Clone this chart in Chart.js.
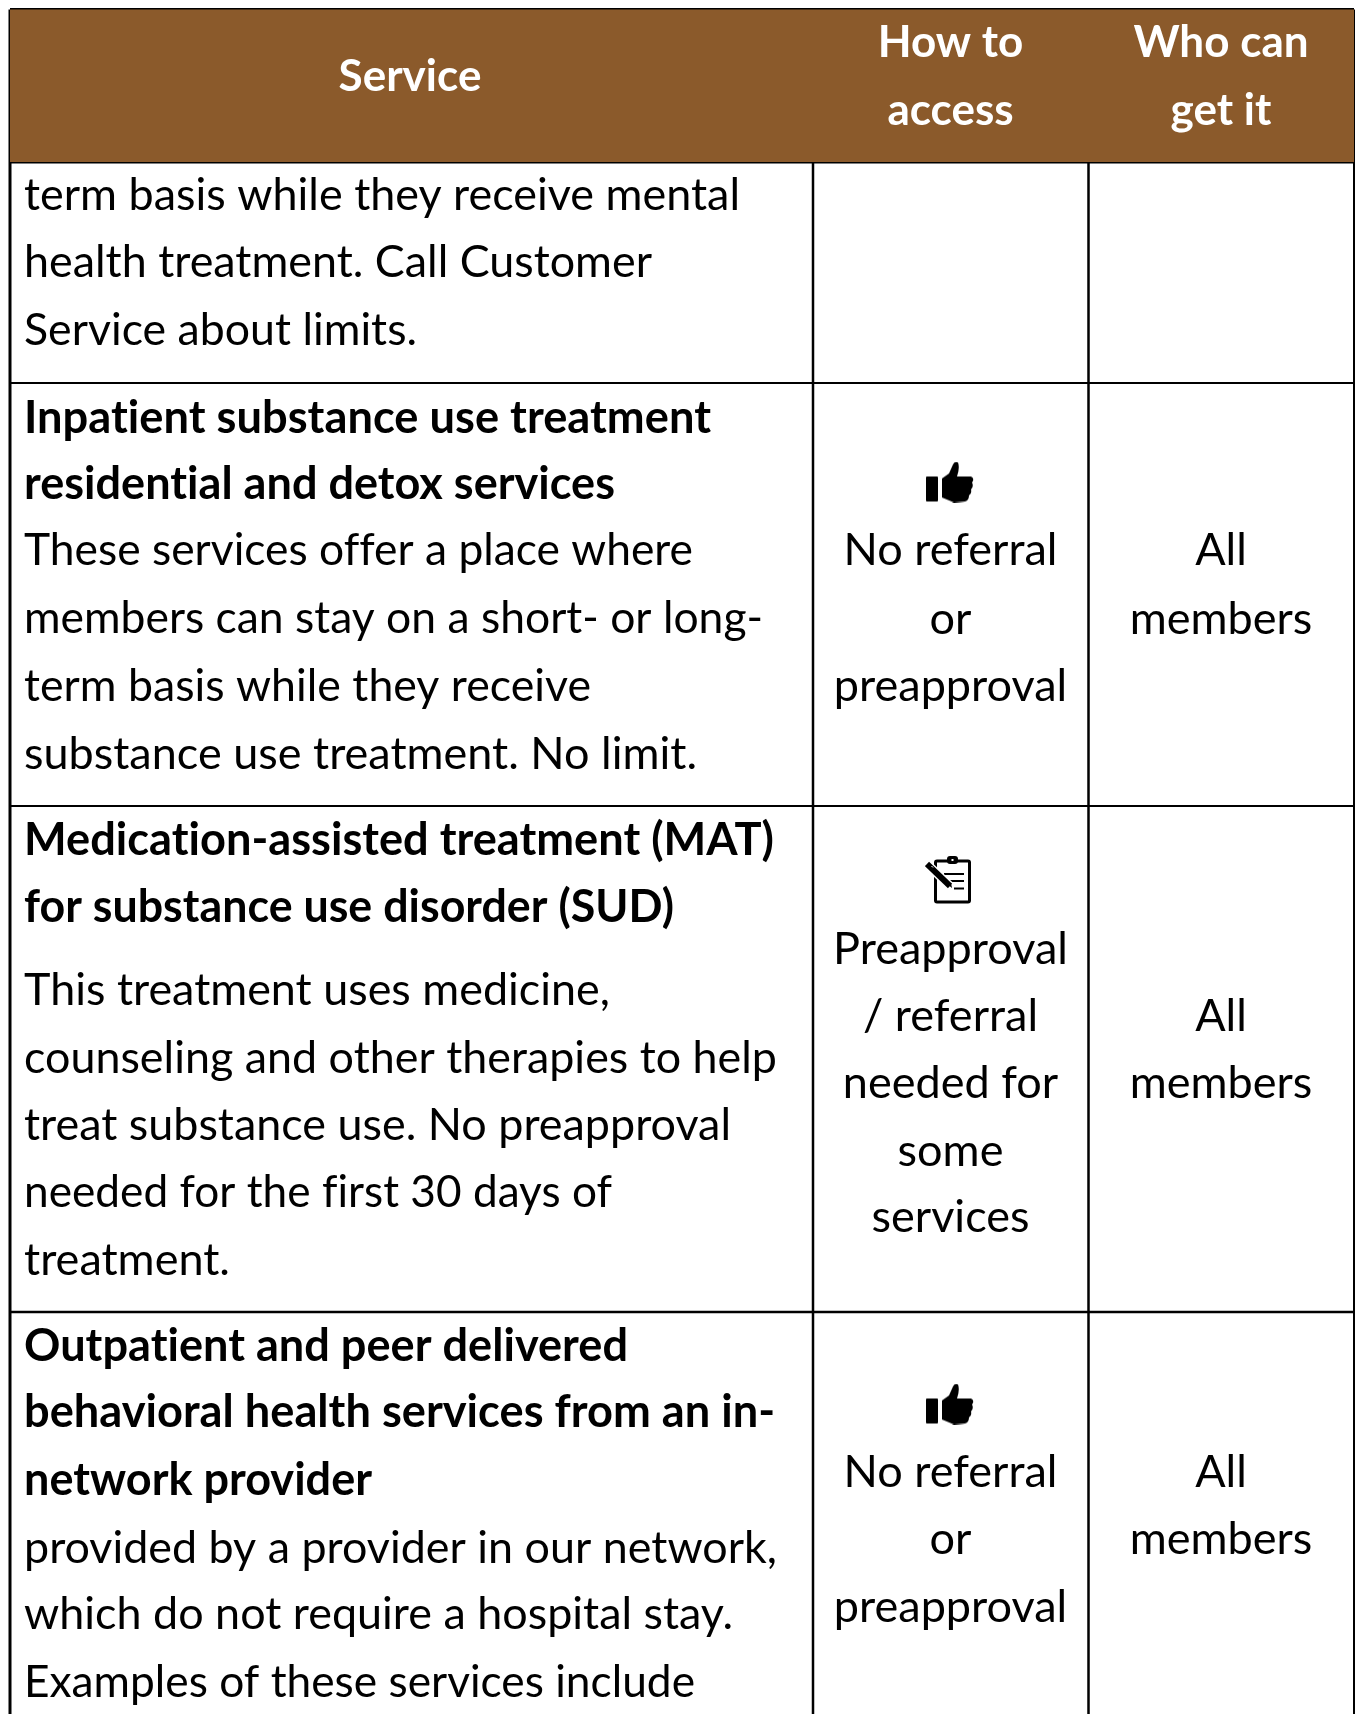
<!DOCTYPE html>
<html>
<head>
<meta charset="utf-8">
<title>Service table</title>
<style>
  html, body { margin: 0; padding: 0; background: #fff; }
  canvas { display: block; }
</style>
<script src="https://cdn.jsdelivr.net/npm/chart.js@4"></script>
</head>
<body>
<canvas id="tableChart" width="1355" height="1714"></canvas>
<script>
// table text
const headerService = ['Service'];
const headerAccess = ['How to', 'access'];
const headerWho = ['Who can', 'get it'];

const serviceBold = [
  'Inpatient substance use treatment',
  'residential and detox services',
  'Medication-assisted treatment (MAT)',
  'for substance use disorder (SUD)',
  'Outpatient and peer delivered',
  'behavioral health services from an in-',
  'network provider'
];
const serviceRegular = [
  'term basis while they receive mental',
  'health treatment. Call Customer',
  'Service about limits.',
  'These services offer a place where',
  'members can stay on a short- or long-',
  'term basis while they receive',
  'substance use treatment. No limit.',
  'This treatment uses medicine,',
  'counseling and other therapies to help',
  'treat substance use. No preapproval',
  'needed for the first 30 days of',
  'treatment.',
  'provided by a provider in our network,',
  'which do not require a hospital stay.',
  'Examples of these services include'
];
const accessLines = [
  'No referral', 'or', 'preapproval',
  'Preapproval', '/ referral', 'needed for', 'some', 'services',
  'No referral', 'or', 'preapproval'
];
const whoLines = ['All', 'members', 'All', 'members', 'All', 'members'];

// axis positions (the y axis runs down the page)
const columnEdges = [10, 813, 1088.5, 1354];
const rowEdges = [9.5, 162, 383, 806, 1312, 1714];
const headerServiceY = [91];
const headerAccessY = [57, 125];
const headerWhoY = [57, 125];
const serviceBoldY = [433, 499, 855, 922, 1361, 1427, 1495];
const serviceRegularY = [210, 277, 345, 565, 633, 701, 769, 1005, 1073, 1140, 1207, 1275, 1563, 1629, 1697];
const accessY = [565, 634, 701, 964, 1031, 1098, 1166, 1232, 1487, 1554, 1622];
const whoY = [565, 634, 1031, 1098, 1487, 1554];
const thumbPoints = [{x: 950, y: 482}, {x: 950, y: 1404}];
const clipboardPoints = [{x: 948, y: 880}];

// measured line widths, Lato runs a little wider than the original face on some lines
const serviceBoldWidths = [687, 591, 750, 650, 604, 751, 348];
const serviceRegularWidths = [716, 628, 393, 669, 739, 567, 673, 586, 753, 707, 588, 210, 753, 709, 671];

const brown = '#8b5a2b';
const bodyFont = '45px Lato';
const boldFont = 'bold 45.5px Lato';
const headerFont = 'bold 44px Lato';

function makeThumbIcon() {
  const c = document.createElement('canvas');
  c.width = 48; c.height = 41;
  const g = c.getContext('2d');
  g.fillStyle = '#000';
  g.beginPath();
  g.roundRect(0, 15, 12, 25, 1);
  g.fill();
  g.beginPath();
  g.moveTo(16, 17);
  g.lineTo(23, 12);
  g.lineTo(27, 3);
  g.quadraticCurveTo(29, -1, 32, 1);
  g.quadraticCurveTo(34, 6, 31, 15);
  g.lineTo(45, 15);
  g.quadraticCurveTo(49, 17, 46, 21);
  g.quadraticCurveTo(48, 25, 45, 28);
  g.quadraticCurveTo(46, 32, 43, 34);
  g.quadraticCurveTo(43, 39, 39, 40);
  g.lineTo(28, 41);
  g.lineTo(16, 36);
  g.closePath();
  g.fill();
  return c;
}

function makeClipboardIcon() {
  const c = document.createElement('canvas');
  c.width = 46; c.height = 48;
  const g = c.getContext('2d');
  g.strokeStyle = '#000';
  g.fillStyle = '#000';
  g.lineWidth = 3;
  g.beginPath();
  g.roundRect(10.5, 5, 34, 41, 1.5);
  g.stroke();
  // clip at the top
  g.beginPath();
  g.roundRect(22, 0, 11, 8, 3);
  g.fill();
  g.fillStyle = '#fff';
  g.fillRect(26.5, 3, 2, 2);
  // writing lines
  g.lineWidth = 2;
  [[19, 39, 18], [24, 39, 25], [29, 39, 32.5]].forEach(([a, b, y]) => {
    g.beginPath();
    g.moveTo(a, y);
    g.lineTo(b, y);
    g.stroke();
  });
  // pencil with a white halo
  g.lineCap = 'butt';
  g.strokeStyle = '#fff';
  g.lineWidth = 9;
  g.beginPath(); g.moveTo(3, 9); g.lineTo(26, 31); g.stroke();
  g.strokeStyle = '#000';
  g.lineWidth = 6;
  g.beginPath(); g.moveTo(2, 8); g.lineTo(25, 30); g.stroke();
  g.strokeStyle = '#fff';
  g.lineWidth = 1;
  g.beginPath(); g.moveTo(6.5, 10); g.lineTo(8, 11.5); g.stroke();
  g.fillStyle = '#000';
  g.beginPath(); g.moveTo(22, 28); g.lineTo(27, 32); g.lineTo(26, 27); g.closePath(); g.fill();
  return c;
}

function rule(x1, y1, x2, y2, width) {
  return {
    type: 'scatter',
    showLine: true,
    data: [{x: x1, y: y1}, {x: x2, y: y2}],
    borderColor: '#000',
    borderWidth: width,
    pointRadius: 0,
    clip: false
  };
}

const [xLeft, xAccess, xWho, xRight] = columnEdges;
const datasets = [
  // header band
  {
    type: 'scatter',
    showLine: true,
    data: [{x: xLeft, y: rowEdges[1]}, {x: xRight, y: rowEdges[1]}],
    fill: {value: rowEdges[0]},
    backgroundColor: brown,
    borderWidth: 0,
    pointRadius: 0
  },
  rule(xLeft, rowEdges[0], xRight, rowEdges[0], 3),
  rule(xLeft, rowEdges[1], xRight, rowEdges[1], 3),
  rule(xLeft, rowEdges[2], xRight, rowEdges[2], 2),
  rule(xLeft, rowEdges[3], xRight, rowEdges[3], 2),
  rule(xLeft, rowEdges[4], xRight, rowEdges[4], 2.5),
  rule(xLeft, rowEdges[0], xLeft, rowEdges[5], 3),
  rule(xAccess, rowEdges[0], xAccess, rowEdges[5], 2.5),
  rule(xWho, rowEdges[0], xWho, rowEdges[5], 2.5),
  rule(xRight, rowEdges[0], xRight, rowEdges[5], 2),
  {type: 'scatter', data: thumbPoints, pointStyle: makeThumbIcon(), pointRadius: 24},
  {type: 'scatter', data: clipboardPoints, pointStyle: makeClipboardIcon(), pointRadius: 24}
];

// text is drawn at axis positions so it follows the same scales as the rules
const textBlocks = [
  {lines: headerService, ys: headerServiceY, x: 410, align: 'center', font: headerFont, color: '#fff'},
  {lines: headerAccess, ys: headerAccessY, x: 950.5, align: 'center', font: headerFont, color: '#fff'},
  {lines: headerWho, ys: headerWhoY, x: 1221, align: 'center', font: headerFont, color: '#fff'},
  {lines: serviceBold, ys: serviceBoldY, widths: serviceBoldWidths, x: 24, align: 'left', font: boldFont, color: '#000'},
  {lines: serviceRegular, ys: serviceRegularY, widths: serviceRegularWidths, x: 24, align: 'left', font: bodyFont, color: '#000'},
  {lines: accessLines, ys: accessY, x: 950.5, align: 'center', font: bodyFont, color: '#000'},
  {lines: whoLines, ys: whoY, x: 1221, align: 'center', font: bodyFont, color: '#000'}
];

const tableText = {
  id: 'tableText',
  afterDatasetsDraw(chart) {
    const ctx = chart.ctx;
    const xScale = chart.scales.x;
    const yScale = chart.scales.y;
    ctx.save();
    ctx.textBaseline = 'alphabetic';
    ctx.letterSpacing = '0.01px'; // keeps Lato from joining "ti" and "fi"
    textBlocks.forEach(block => {
      ctx.font = block.font;
      ctx.fillStyle = block.color;
      ctx.textAlign = block.align;
      block.lines.forEach((line, i) => {
        const x = xScale.getPixelForValue(block.x);
        const y = yScale.getPixelForValue(block.ys[i]);
        if (block.widths) {
          ctx.fillText(line, x, y, block.widths[i]);
        } else {
          ctx.fillText(line, x, y);
        }
      });
    });
    ctx.restore();
  }
};

function start() {
  new Chart(document.getElementById('tableChart').getContext('2d'), {
    type: 'scatter',
    data: {datasets},
    plugins: [tableText],
    options: {
      responsive: false,
      animation: false,
      layout: {padding: 0, autoPadding: false},
      plugins: {legend: {display: false}, tooltip: {enabled: false}},
      scales: {
        x: {type: 'linear', min: 0, max: 1355, display: false},
        y: {type: 'linear', min: 0, max: 1714, reverse: true, display: false}
      }
    }
  });
}

// Lato has to be loaded before the canvas can use it
Promise.all([document.fonts.load(bodyFont), document.fonts.load(boldFont), document.fonts.load(headerFont)]).then(start, start);
</script>
</body>
</html>
